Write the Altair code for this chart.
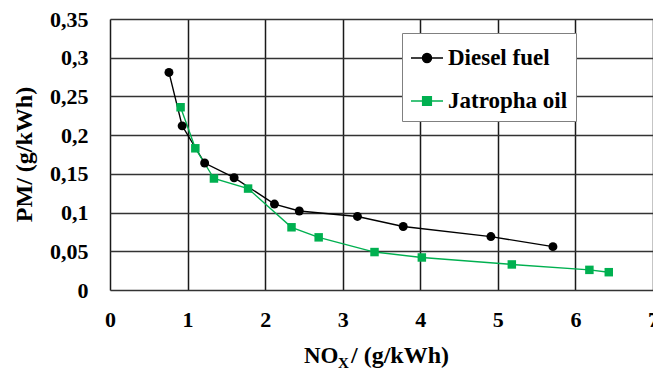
import altair as alt
import pandas as pd

# ---- data ----
series_names = ["Diesel fuel", "Jatropha oil"]
series_colors = ["#000000", "#00b050"]

diesel_nox = [0.76, 0.93, 1.22, 1.60, 2.12, 2.44, 3.19, 3.78, 4.91, 5.71]
diesel_pm = [0.281, 0.212, 0.164, 0.145, 0.111, 0.102, 0.095, 0.082, 0.069, 0.056]

jatropha_nox = [0.91, 1.10, 1.34, 1.78, 2.34, 2.69, 3.41, 4.02, 5.18, 6.18, 6.43]
jatropha_pm = [0.236, 0.183, 0.144, 0.131, 0.081, 0.068, 0.049, 0.042, 0.033, 0.026, 0.023]

x_ticks = [0, 1, 2, 3, 4, 5, 6, 7]
y_ticks = [0, 0.05, 0.1, 0.15, 0.2, 0.25, 0.3, 0.35]

df = pd.concat([
    pd.DataFrame({"nox": diesel_nox, "pm": diesel_pm, "series": series_names[0]}),
    pd.DataFrame({"nox": jatropha_nox, "pm": jatropha_pm, "series": series_names[1]}),
], ignore_index=True)

FONT = "Liberation Serif"
FS = 22

x_enc = alt.X("nox:Q", scale=alt.Scale(domain=[0, 7], nice=False, zero=True),
              axis=alt.Axis(values=x_ticks, title=None, grid=True, domain=False,
                            ticks=False, tickSize=0, labelPadding=19,
                            labelFont=FONT, labelFontSize=FS, labelFontWeight="bold",
                            labelColor="black", labelFlush=False, labelOverlap=False,
                            gridColor="#1a1a1a", gridWidth=1.5, gridOpacity=1))
y_enc = alt.Y("pm:Q", scale=alt.Scale(domain=[0, 0.35], nice=False),
              axis=alt.Axis(values=y_ticks, title="PM/ (g/kWh)", grid=True, domain=False,
                            ticks=False, tickSize=0, labelPadding=22,
                            labelExpr="replace(format(datum.value, '.2~f'), '.', ',')",
                            labelFont=FONT, labelFontSize=FS, labelFontWeight="bold",
                            labelColor="black", labelFlush=False, labelOverlap=False,
                            labelBaseline="middle",
                            gridColor="#333333", gridWidth=1.5, gridOpacity=1,
                            titleFont=FONT, titleFontSize=24, titleFontWeight="bold",
                            titleColor="black", titleX=-86, titleY=135, titleAngle=-90,
                            titleAlign="center", titleBaseline="middle"))

# colour scale for the plotted marks (listed in reverse order so that it is not
# merged with the legend's scales)
color_enc = alt.Color("series:N",
                      scale=alt.Scale(domain=series_names[::-1], range=series_colors[::-1]),
                      legend=None)

base = alt.Chart(df)

lines = base.mark_line(strokeWidth=1.4).encode(x=x_enc, y=y_enc, color=color_enc)

diesel_pts = base.transform_filter(alt.datum.series == series_names[0]).mark_point(
    shape="circle", filled=True, opacity=1, size=80
).encode(x=x_enc, y=y_enc, color=color_enc)

jatropha_pts = base.transform_filter(alt.datum.series == series_names[1]).mark_point(
    shape="square", filled=True, opacity=1, size=72
).encode(x=x_enc, y=y_enc, color=color_enc)

# legend symbols: a short line with the marker on it
legend_paths = [
    "M-1,0L1,0M-0.28,0A0.28,0.28,0,1,0,0.28,0A0.28,0.28,0,1,0,-0.28,0Z",
    "M-1,0L1,0M-0.27,-0.27L0.27,-0.27L0.27,0.27L-0.27,0.27Z",
]
leg = alt.Legend(title=None, orient="none", legendX=292, legendY=14,
                 fillColor="white", strokeColor="#808080", padding=8,
                 rowPadding=14, symbolSize=1024, symbolStrokeWidth=1.5,
                 symbolOpacity=1, labelOffset=4,
                 labelExpr="datum.label + '\u00a0\u00a0\u00a0\u00a0\u00a0\u00a0\u00a0'",
                 labelFont=FONT, labelFontSize=23, labelFontWeight="bold",
                 labelColor="black")
legend_layer = base.mark_point(filled=True, opacity=0, size=1).encode(
    x=x_enc, y=y_enc,
    fill=alt.Fill("series:N", scale=alt.Scale(domain=series_names, range=series_colors), legend=leg),
    stroke=alt.Stroke("series:N", scale=alt.Scale(domain=series_names, range=series_colors), legend=leg),
    shape=alt.Shape("series:N", scale=alt.Scale(domain=series_names, range=legend_paths), legend=leg),
)

one = alt.Data(values=[{"a": 1}])
title_no = alt.Chart(one).mark_text(text="NO", align="left", baseline="alphabetic",
                                    font=FONT, fontSize=23, fontWeight="bold", color="black"
                                    ).encode(x=alt.value(194), y=alt.value(344))
title_x = alt.Chart(one).mark_text(text="X", align="left", baseline="alphabetic",
                                   font=FONT, fontSize=15, fontWeight="bold", color="black"
                                   ).encode(x=alt.value(228), y=alt.value(349))
title_rest = alt.Chart(one).mark_text(text="/ (g/kWh)", align="left", baseline="alphabetic",
                                      font=FONT, fontSize=24, fontWeight="bold", color="black"
                                      ).encode(x=alt.value(241), y=alt.value(344))

chart = alt.layer(lines, diesel_pts, jatropha_pts, legend_layer, title_no, title_x, title_rest).properties(
    width=543, height=271,
    autosize=alt.AutoSizeParams(type="none"),
    padding={"left": 110, "top": 19, "right": 0, "bottom": 80},
).configure_view(stroke="black", strokeWidth=1.5).configure(background="white")

chart.save("out.html", embed_options={"renderer": "svg", "actions": False})
